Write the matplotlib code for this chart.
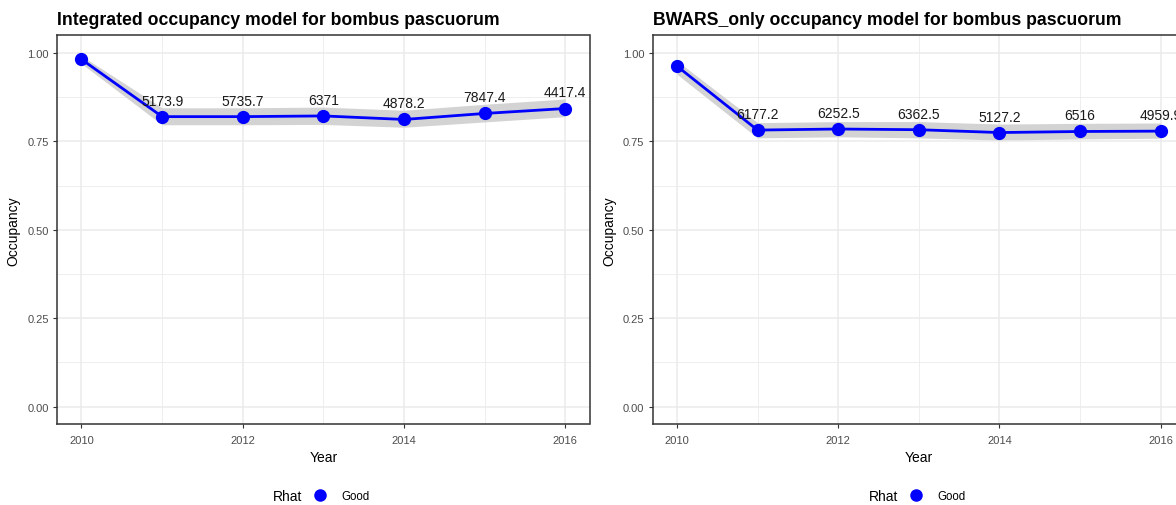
import matplotlib
matplotlib.use("Agg")
import matplotlib.pyplot as plt
from matplotlib.lines import Line2D
from matplotlib.ticker import MultipleLocator, FormatStrFormatter

plt.rcParams['font.family'] = ['Liberation Sans', 'DejaVu Sans']

years = [2010, 2011, 2012, 2013, 2014, 2015, 2016]

# Integrated model
int_mean = [0.982, 0.820, 0.820, 0.822, 0.812, 0.829, 0.843]
int_lower = [0.970, 0.797, 0.797, 0.798, 0.790, 0.805, 0.820]
int_upper = [0.992, 0.845, 0.845, 0.847, 0.838, 0.855, 0.870]
int_labels = ["", "5173.9", "5735.7", "6371", "4878.2", "7847.4", "4417.4"]

# BWARS-only model
bw_mean = [0.963, 0.782, 0.785, 0.783, 0.775, 0.778, 0.779]
bw_lower = [0.940, 0.760, 0.763, 0.760, 0.754, 0.757, 0.759]
bw_upper = [0.978, 0.803, 0.806, 0.806, 0.799, 0.801, 0.802]
bw_labels = ["", "6177.2", "6252.5", "6362.5", "5127.2", "6516", "4959.9"]

titles = ["Integrated occupancy model for bombus pascuorum",
          "BWARS_only occupancy model for bombus pascuorum"]

W, H = 1176, 506
fig = plt.figure(figsize=(W / 100, H / 100), dpi=100)

grid_col = "#EBEBEB"
tick_col = "#4D4D4D"


def px_axes(left, top, right, bottom):
    return fig.add_axes([left / W, 1 - bottom / H, (right - left) / W, (bottom - top) / H])


panels = [
    (px_axes(57.3, 36.3, 589.5, 425.3), int_mean, int_lower, int_upper, int_labels),
    (px_axes(652.7, 36.3, 1184.9, 425.3), bw_mean, bw_lower, bw_upper, bw_labels),
]

for i, (ax, mean, lo, hi, labs) in enumerate(panels):
    ax.set_xlim(2009.7, 2016.3)
    ax.set_ylim(-0.05, 1.05)
    ax.xaxis.set_major_locator(MultipleLocator(2))
    ax.xaxis.set_minor_locator(MultipleLocator(1))
    ax.yaxis.set_major_locator(MultipleLocator(0.25))
    ax.yaxis.set_minor_locator(MultipleLocator(0.125))
    ax.grid(which="major", color=grid_col, lw=1.1, zorder=0)
    ax.grid(which="minor", color=grid_col, lw=0.6, zorder=0)
    ax.set_axisbelow(True)
    for s in ax.spines.values():
        s.set_color("#333333")
        s.set_linewidth(1.1)
    ax.tick_params(which="major", length=3, width=0.8, color="#333333",
                   labelsize=8, labelcolor=tick_col, pad=3)
    ax.tick_params(axis="x", which="major", pad=5)
    ax.tick_params(which="minor", length=0)
    ax.yaxis.set_major_formatter(FormatStrFormatter("%.2f"))

    ax.fill_between(years, lo, hi, color="#D3D3D3", lw=0, zorder=2)
    ax.plot(years, mean, color="#0000FF", lw=2, zorder=3)
    ax.plot(years, mean, "o", color="#0000FF", ms=8.5, zorder=4)
    for x, y, t in zip(years, mean, labs):
        if t:
            ax.annotate(t, (x, y), xytext=(0, 6.5), textcoords="offset points",
                        ha="center", va="bottom", fontsize=10, color="#1A1A1A",
                        zorder=5, annotation_clip=False)

    ax.set_xlabel("Year", fontsize=10, labelpad=3)
    ax.set_ylabel("Occupancy", fontsize=10, labelpad=5)
    ax.set_title(titles[i], fontsize=12.7, fontweight="bold", loc="left", pad=8)

# legend keys below each panel
for cx in (297, 893):
    ly = 1 - 497 / H
    fig.text((cx - 24) / W, ly, "Rhat", fontsize=10, ha="left", va="center")
    fig.add_artist(Line2D([(cx + 23) / W], [ly + 0.002], transform=fig.transFigure,
                          marker="o", ms=8, color="#0000FF", lw=0))
    fig.text((cx + 44) / W, ly, "Good", fontsize=8.3, ha="left", va="center")

fig.savefig("out.png", dpi=100)
